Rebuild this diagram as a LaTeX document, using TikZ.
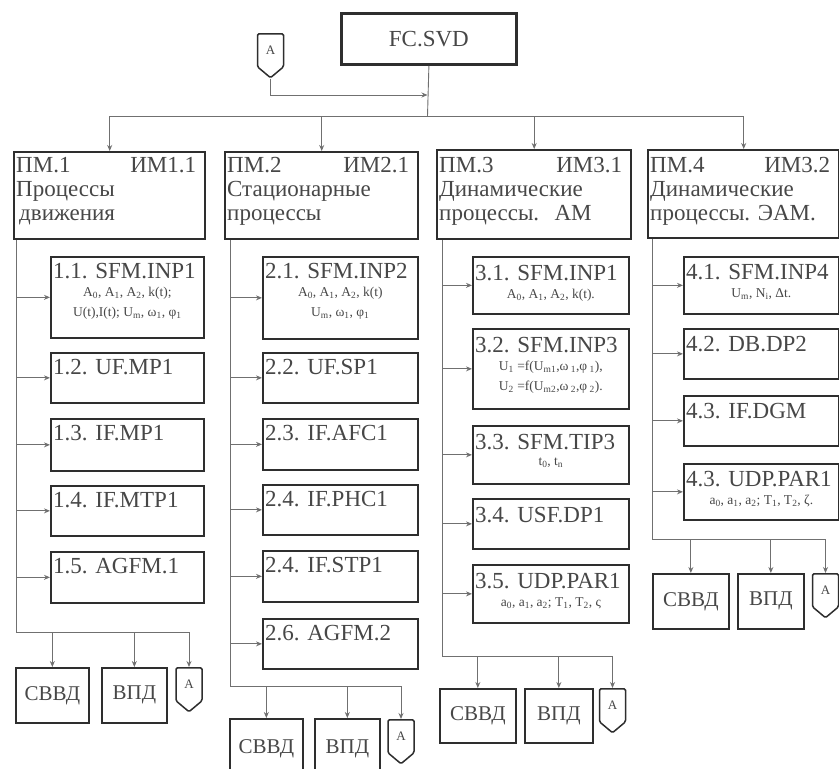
\documentclass[tikz,border=0pt]{standalone}
\usepackage{fontspec}
\setmainfont{Liberation Serif}
\usetikzlibrary{arrows.meta,positioning,calc,shapes.symbols}
\definecolor{ink}{HTML}{2E2E2E}
\definecolor{ink2}{HTML}{474747}
\definecolor{wire}{HTML}{707070}
\tikzset{
  base/.style={draw=ink, inner sep=0pt, anchor=north west, text=ink2},
  topbox/.style={base, line width=2.8pt, font=\fontsize{23}{23}\selectfont},
  headbox/.style={base, line width=2.4pt},
  modbox/.style={base, line width=1.7pt},
  outbox/.style={base, line width=1.7pt, font=\fontsize{21}{21}\selectfont},
  headtxt/.style={font=\fontsize{23}{24}\selectfont, text=ink2, anchor=north west, align=left, inner sep=0pt},
  ttl/.style={font=\fontsize{23}{23}\selectfont, text=ink2, anchor=north west, inner sep=0pt},
  sub/.style={font=\fontsize{13.5}{20}\selectfont, text=ink2, align=center, anchor=north, inner sep=0pt},
  conn/.style={draw=ink, line width=1.5pt, shape=signal, signal to=south, signal from=nowhere,
    signal pointer angle=100, minimum width=26pt, minimum height=37pt, inner sep=0pt,
    rounded corners=1.5pt, font=\fontsize{13}{13}\selectfont, text=ink2, anchor=north},
  arr/.style={-{Stealth[length=6pt,width=5pt]}, line width=0.9pt, draw=wire},
  wire/.style={line width=0.9pt, draw=wire},
}
\begin{document}
\begin{tikzpicture}[x=1pt, y=-1pt]
  \fill[white] (0,0) rectangle (839,769);
  \useasboundingbox (0,0) rectangle (839,769);

  % top level
  \node[topbox, minimum width=175pt, minimum height=51pt] (fc) at (340,12) {FC.SVD};
  \node[conn] (a0) at (270.5,33) {A};
  \coordinate (tb) at (427.5,116);

  % headers
  \node[headbox, minimum width=191pt, minimum height=87pt] (h1) at (13,151) {};
  \node[headbox, minimum width=193pt, minimum height=87pt] (h2) at (224,151) {};
  \node[headbox, minimum width=194pt, minimum height=89pt] (h3) at (436,149) {};
  \node[headbox, minimum width=191pt, minimum height=88pt] (h4) at (647,149) {};
  \node[headtxt, text width=180pt] at ($(h1.north west)+(3,6)$) {ПМ.1\hfill ИМ1.1\\Процессы\\\hspace*{3pt}движения};
  \node[headtxt, text width=182pt] at ($(h2.north west)+(3,6)$) {ПМ.2\hfill ИМ2.1\\Стационарные\\процессы};
  \node[headtxt, text width=183pt] at ($(h3.north west)+(3,8)$) {ПМ.3\hfill ИМ3.1\\Динамические\\процессы.\ \ АМ};
  \node[headtxt, text width=180pt] at ($(h4.north west)+(3,8)$) {ПМ.4\hfill ИМ3.2\\Динамические\\процессы.\ ЭАМ.};

  \draw[wire] (fc.south) -- (tb);
  \draw[wire] (h1.north |- tb) -- (h4.north |- tb);
  \foreach \c in {1,...,4}
    \draw[arr] (h\c.north |- tb) -- (h\c.north);
  \draw[arr] (a0.south) |- ($(tb)+(0,-21)$);

  % column 1
  \coordinate (v1) at ($(h1.south west)+(3,0)$);
  \foreach \k/\t/\b/\n/\s in {1/256/337/{1.1. SFM.INP1}/{A\textsubscript{0}, A\textsubscript{1}, A\textsubscript{2}, k(t);\\U(t),I(t); U\textsubscript{m}, ω\textsubscript{1}, φ\textsubscript{1}},
                              2/352/402/{1.2. UF.MP1}/{},
                              3/418/470/{1.3. IF.MP1}/{},
                              4/485/535/{1.4. IF.MTP1}/{},
                              5/551/602/{1.5. AGFM.1}/{}} {
    \node[modbox, minimum width=153pt, minimum height={\b-\t}] (c1\k) at (50,\t) {};
    \node[ttl] (t1\k) at ($(c1\k.north west)+(3,7)$) {\n};
    \node[sub] at ($(t1\k.south -| c1\k.north)+(0,8)$) {\s};
    \draw[arr] (c1\k.west -| v1) -- (c1\k.west);
  }
  \node[outbox, minimum width=73pt, minimum height=55pt] (s1) at (15,667) {СВВД};
  \node[outbox, minimum width=65pt, minimum height=55pt] (p1) at (101,667) {ВПД};
  \node[conn] (a1) at (189,667) {A};
  \coordinate (bb1) at (16,632);
  \draw[wire] (v1) -- (bb1) -- (bb1 -| a1.north);
  \foreach \o in {s1,p1,a1}
    \draw[arr] (\o.north |- bb1) -- (\o.north);

  % column 2
  \coordinate (v2) at ($(h2.south west)+(6,0)$);
  \foreach \k/\t/\b/\n/\s in {1/256/338/{2.1. SFM.INP2}/{A\textsubscript{0}, A\textsubscript{1}, A\textsubscript{2}, k(t)\\U\textsubscript{m}, ω\textsubscript{1}, φ\textsubscript{1}},
                              2/352/402/{2.2. UF.SP1}/{},
                              3/418/469/{2.3. IF.AFC1}/{},
                              4/484/534/{2.4. IF.PHC1}/{},
                              5/550/601/{2.4. IF.STP1}/{},
                              6/618/668/{2.6. AGFM.2}/{}} {
    \node[modbox, minimum width=155pt, minimum height={\b-\t}] (c2\k) at (262,\t) {};
    \node[ttl] (t2\k) at ($(c2\k.north west)+(3,7)$) {\n};
    \node[sub] at ($(t2\k.south -| c2\k.north)+(0,8)$) {\s};
    \draw[arr] (c2\k.west -| v2) -- (c2\k.west);
  }
  \node[outbox, minimum width=73pt, minimum height=60pt] (s2) at (229,718) {СВВД};
  \node[outbox, minimum width=65pt, minimum height=60pt] (p2) at (314,718) {ВПД};
  \node[conn] (a2) at (401,719) {A};
  \coordinate (bb2) at (230,686);
  \draw[wire] (v2) -- (bb2) -- (bb2 -| a2.north);
  \foreach \o in {s2,p2,a2}
    \draw[arr] (\o.north |- bb2) -- (\o.north);

  % column 3
  \coordinate (v3) at ($(h3.south west)+(6,0)$);
  \foreach \k/\t/\b/\n/\s in {1/256/313/{3.1. SFM.INP1}/{A\textsubscript{0}, A\textsubscript{1}, A\textsubscript{2}, k(t).},
                              2/328/408/{3.2. SFM.INP3}/{U\textsubscript{1} =f(U\textsubscript{m1},ω\textsubscript{ 1},φ\textsubscript{ 1}),\\U\textsubscript{2} =f(U\textsubscript{m2},ω\textsubscript{ 2},φ\textsubscript{ 2}).},
                              3/425/483/{3.3. SFM.TIP3}/{t\textsubscript{0}, t\textsubscript{n}},
                              4/498/548/{3.4. USF.DP1}/{},
                              5/564/622/{3.5. UDP.PAR1}/{a\textsubscript{0}, a\textsubscript{1}, a\textsubscript{2}; T\textsubscript{1}, T\textsubscript{2}, ς}} {
    \node[modbox, minimum width=156pt, minimum height={\b-\t}] (c3\k) at (472,\t) {};
    \node[ttl] (t3\k) at ($(c3\k.north west)+(3,9)$) {\n};
    \node[sub] at ($(t3\k.south -| c3\k.north)+(0,8)$) {\s};
    \draw[arr] (c3\k.west -| v3) -- (c3\k.west);
  }
  \node[outbox, minimum width=76pt, minimum height=54pt] (s3) at (439,688) {СВВД};
  \node[outbox, minimum width=68pt, minimum height=54pt] (p3) at (524,688) {ВПД};
  \node[conn] (a3) at (612.5,688) {A};
  \coordinate (bb3) at (442,656);
  \draw[wire] (v3) -- (bb3) -- (bb3 -| a3.north);
  \foreach \o in {s3,p3,a3}
    \draw[arr] (\o.north |- bb3) -- (\o.north);

  % column 4
  \coordinate (v4) at ($(h4.south west)+(5,0)$);
  \foreach \k/\t/\b/\n/\s in {1/256/313/{4.1. SFM.INP4}/{U\textsubscript{m}, N\textsubscript{i}, Δt.},
                              2/328/378/{4.2. DB.DP2}/{},
                              3/395/445/{4.3. IF.DGM}/{},
                              4/463/519/{4.3. UDP.PAR1}/{a\textsubscript{0}, a\textsubscript{1}, a\textsubscript{2}; T\textsubscript{1}, T\textsubscript{2}, ζ.}} {
    \node[modbox, minimum width=155pt, minimum height={\b-\t}] (c4\k) at (683,\t) {};
    \node[ttl] (t4\k) at ($(c4\k.north west)+(3,8)$) {\n};
    \node[sub] at ($(t4\k.south -| c4\k.north)+(0,8)$) {\s};
    \draw[arr] (c4\k.west -| v4) -- (c4\k.west);
  }
  \node[outbox, minimum width=76pt, minimum height=55pt] (s4) at (652,573) {СВВД};
  \node[outbox, minimum width=66pt, minimum height=55pt] (p4) at (737,573) {ВПД};
  \node[conn] (a4) at (825.5,573) {A};
  \coordinate (bb4) at (652,539);
  \draw[wire] (v4) -- (bb4) -- (bb4 -| a4.north);
  \foreach \o in {s4,p4,a4}
    \draw[arr] (\o.north |- bb4) -- (\o.north);
\end{tikzpicture}
\end{document}
